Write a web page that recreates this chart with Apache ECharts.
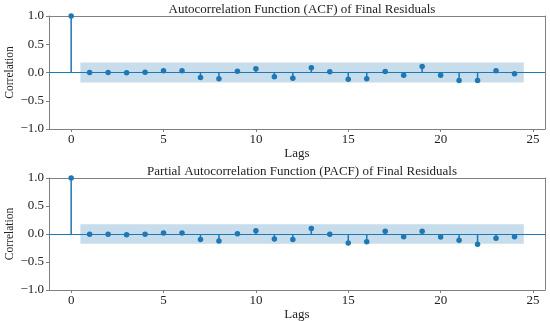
<!DOCTYPE html>
<html><head><meta charset="utf-8">
<script src="https://cdn.jsdelivr.net/npm/echarts@6/dist/echarts.min.js"></script>
<style>html,body{margin:0;padding:0;background:#fff}#c{width:550px;height:321px}</style>
</head><body><div id="c"></div>
<script>
const lags = [0,1,2,3,4,5,6,7,8,9,10,11,12,13,14,15,16,17,18,19,20,21,22,23,24];
const acfValues = [1.0,0.0,0.0,-0.005,0.005,0.03,0.03,-0.09,-0.11,0.02,0.065,-0.077,-0.10,0.083,0.012,-0.118,-0.112,0.018,-0.047,0.106,-0.047,-0.14,-0.14,0.03,-0.024];
const pacfValues = [1.0,-0.006,-0.006,-0.012,-0.006,0.018,0.018,-0.10,-0.125,0.006,0.06,-0.09,-0.10,0.10,-0.006,-0.16,-0.137,0.048,-0.048,0.048,-0.054,-0.113,-0.185,-0.078,-0.048];
const acfBand = 0.177;
const pacfBand = 0.172;
const bandLags = [0.5, 24.5];
const xTicks = [0,5,10,15,20,25];
const yTickStep = 0.5;
const titles = ['Autocorrelation Function (ACF) of Final Residuals','Partial Autocorrelation Function (PACF) of Final Residuals'];
const yName = 'Correlation';
const xName = 'Lags';

const blue = '#1f77b4';
const font = 'Liberation Serif';
const grids = [{left:49,top:16,width:496,height:113,outerBoundsMode:'none',containLabel:false},
               {left:49,top:178,width:496,height:112,outerBoundsMode:'none',containLabel:false}];
function xAx(i){return {type:'value',gridIndex:i,min:-1.2,max:25.65,name:xName,nameLocation:'middle',nameGap:16,
  nameTextStyle:{fontFamily:font,fontSize:13,color:'#222'},
  axisLine:{show:true,onZero:false,lineStyle:{color:'#808080',width:1}},
  axisTick:{show:true,length:3,customValues:xTicks,lineStyle:{color:'#808080'}},
  axisLabel:{customValues:xTicks,fontFamily:font,fontSize:13,color:'#222',margin:4,hideOverlap:false},splitLine:{show:false}};}
function yAx(i){return {type:'value',gridIndex:i,min:-1,max:1,interval:yTickStep,
  axisLine:{show:true,onZero:false,lineStyle:{color:'#808080',width:1}},
  axisTick:{show:true,length:3,lineStyle:{color:'#808080'}},
  axisLabel:{hideOverlap:false,fontFamily:font,fontSize:13,color:'#222',margin:5,formatter:function(v){return (v<0?'\u2212':'')+Math.abs(v).toFixed(1);}},splitLine:{show:false}};}
function frame(i){return [{type:'value',gridIndex:i,position:'top',min:0,max:1,axisLine:{show:true,onZero:false,lineStyle:{color:'#808080'}},axisTick:{show:false},axisLabel:{show:false},splitLine:{show:false}},
                          {type:'value',gridIndex:i,position:'right',min:0,max:1,axisLine:{show:true,onZero:false,lineStyle:{color:'#808080'}},axisTick:{show:false},axisLabel:{show:false},splitLine:{show:false}}];}
const f0=frame(0), f1=frame(1);
const xAxis=[xAx(0),xAx(1),f0[0],f1[0]];
const yAxis=[yAx(0),yAx(1),f0[1],f1[1]];
function seriesFor(i, vals, band){
  const pts = lags.map((l,k)=>[l,vals[k]]);
  return [
    {type:'line',xAxisIndex:i,yAxisIndex:i,data:[],silent:true,
      markArea:{silent:true,itemStyle:{color:'rgba(31,119,180,0.25)'},data:[[{coord:[bandLags[0],-band]},{coord:[bandLags[1],band]}]]},
      markLine:{silent:true,symbol:'none',label:{show:false},lineStyle:{color:blue,width:1.2,type:'solid'},data:[{yAxis:0}]}},
    {type:'bar',xAxisIndex:i,yAxisIndex:i,data:pts,barWidth:1.5,itemStyle:{color:blue},silent:true,z:3},
    {type:'scatter',xAxisIndex:i,yAxisIndex:i,data:pts,symbolSize:5.5,itemStyle:{color:blue,opacity:1},silent:true,z:4}
  ];
}
function yNameText(cy){return {type:'text',x:10,y:cy,rotation:Math.PI/2,style:{text:yName,font:'11.5px "Liberation Serif"',fill:'#222',align:'center',verticalAlign:'middle'}};}
const chart = echarts.init(document.getElementById('c'),null,{renderer:'canvas'});
chart.setOption({
  animation:false,
  title:[{text:titles[0],left:297,top:-2,textAlign:'center',textStyle:{fontFamily:font,fontSize:13,fontWeight:'normal',color:'#222'}},
         {text:titles[1],left:297,top:160,textAlign:'center',textStyle:{fontFamily:font,fontSize:13,fontWeight:'normal',color:'#222'}}],
  grid:grids, xAxis:xAxis, yAxis:yAxis,
  graphic:[yNameText(72.5),yNameText(234)],
  series:[...seriesFor(0,acfValues,acfBand),...seriesFor(1,pacfValues,pacfBand)]
});
</script></body></html>
